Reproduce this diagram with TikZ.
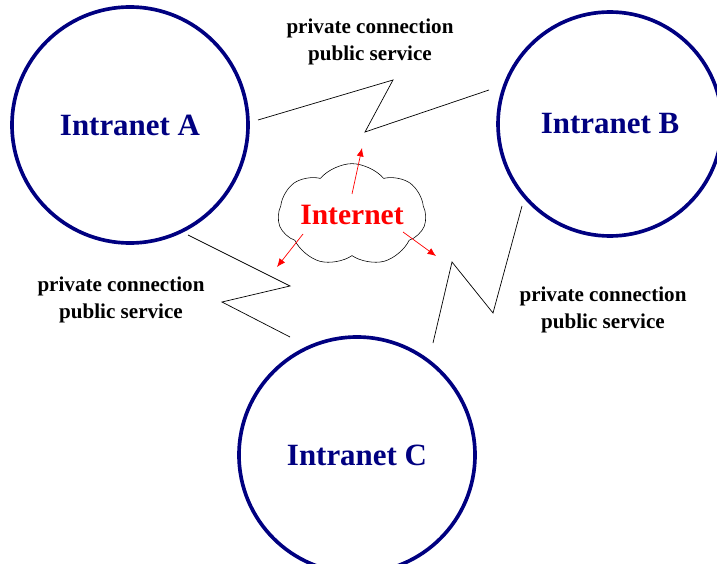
\documentclass[tikz,border=0pt]{standalone}
\usepackage{fontspec}
\setmainfont{Liberation Serif}
\usetikzlibrary{shapes.symbols,arrows.meta}
\definecolor{netblue}{RGB}{0,0,128}
\tikzset{
  site/.style={circle,draw=netblue,line width=2.6pt,text=netblue,font=\bfseries\fontsize{22}{26}\selectfont},
  link/.style={black,line width=0.5pt},
  linklabel/.style={align=center,font=\bfseries\fontsize{15}{19.5}\selectfont},
  reach/.style={red,line width=0.5pt,-{Latex[length=6pt,width=5pt]}}
}
\begin{document}
\begin{tikzpicture}[x=0.025cm,y=-0.025cm]
  \useasboundingbox (0,0) rectangle (717,564);

  \node[site,minimum size=236*0.025cm] (intA) at (130,125) {Intranet A};
  \node[site,minimum size=224*0.025cm] (intB) at (610,124) {Intranet B};
  \node[site,minimum size=236*0.025cm] (intC) at (357,455) {Intranet C};

  % the internet cloud
  \node[cloud,cloud puffs=7,cloud puff arc=100,aspect=1.8,draw,thin,text=red,
        minimum width=132*0.025cm,minimum height=80*0.025cm,inner sep=0pt,
        font=\bfseries\fontsize{21}{24}\selectfont] (inet) at (352,215) {Internet};
  \coordinate (upA) at (362,148);
  \coordinate (upB) at (277,267);
  \coordinate (upC) at (436,256);
  \draw[reach] (352,194) -- (upA);
  \draw[reach] (303,234) -- (upB);
  \draw[reach] (403,232) -- (upC);

  % zigzag links
  \draw[link] (258,120) -- (393,80) -- (365,132) -- (489,90);
  \draw[link] (188,235) -- (290,286) -- (222,302) -- (290,337);
  \draw[link] (433,343) -- (452,262) -- (493,313) -- (522,206);

  \node[linklabel] (labAB) at (370,42) {private connection\\public service};
  \node[linklabel] (labAC) at (121,300) {private connection\\public service};
  \node[linklabel] (labBC) at (603,310) {private connection\\public service};
\end{tikzpicture}
\end{document}
